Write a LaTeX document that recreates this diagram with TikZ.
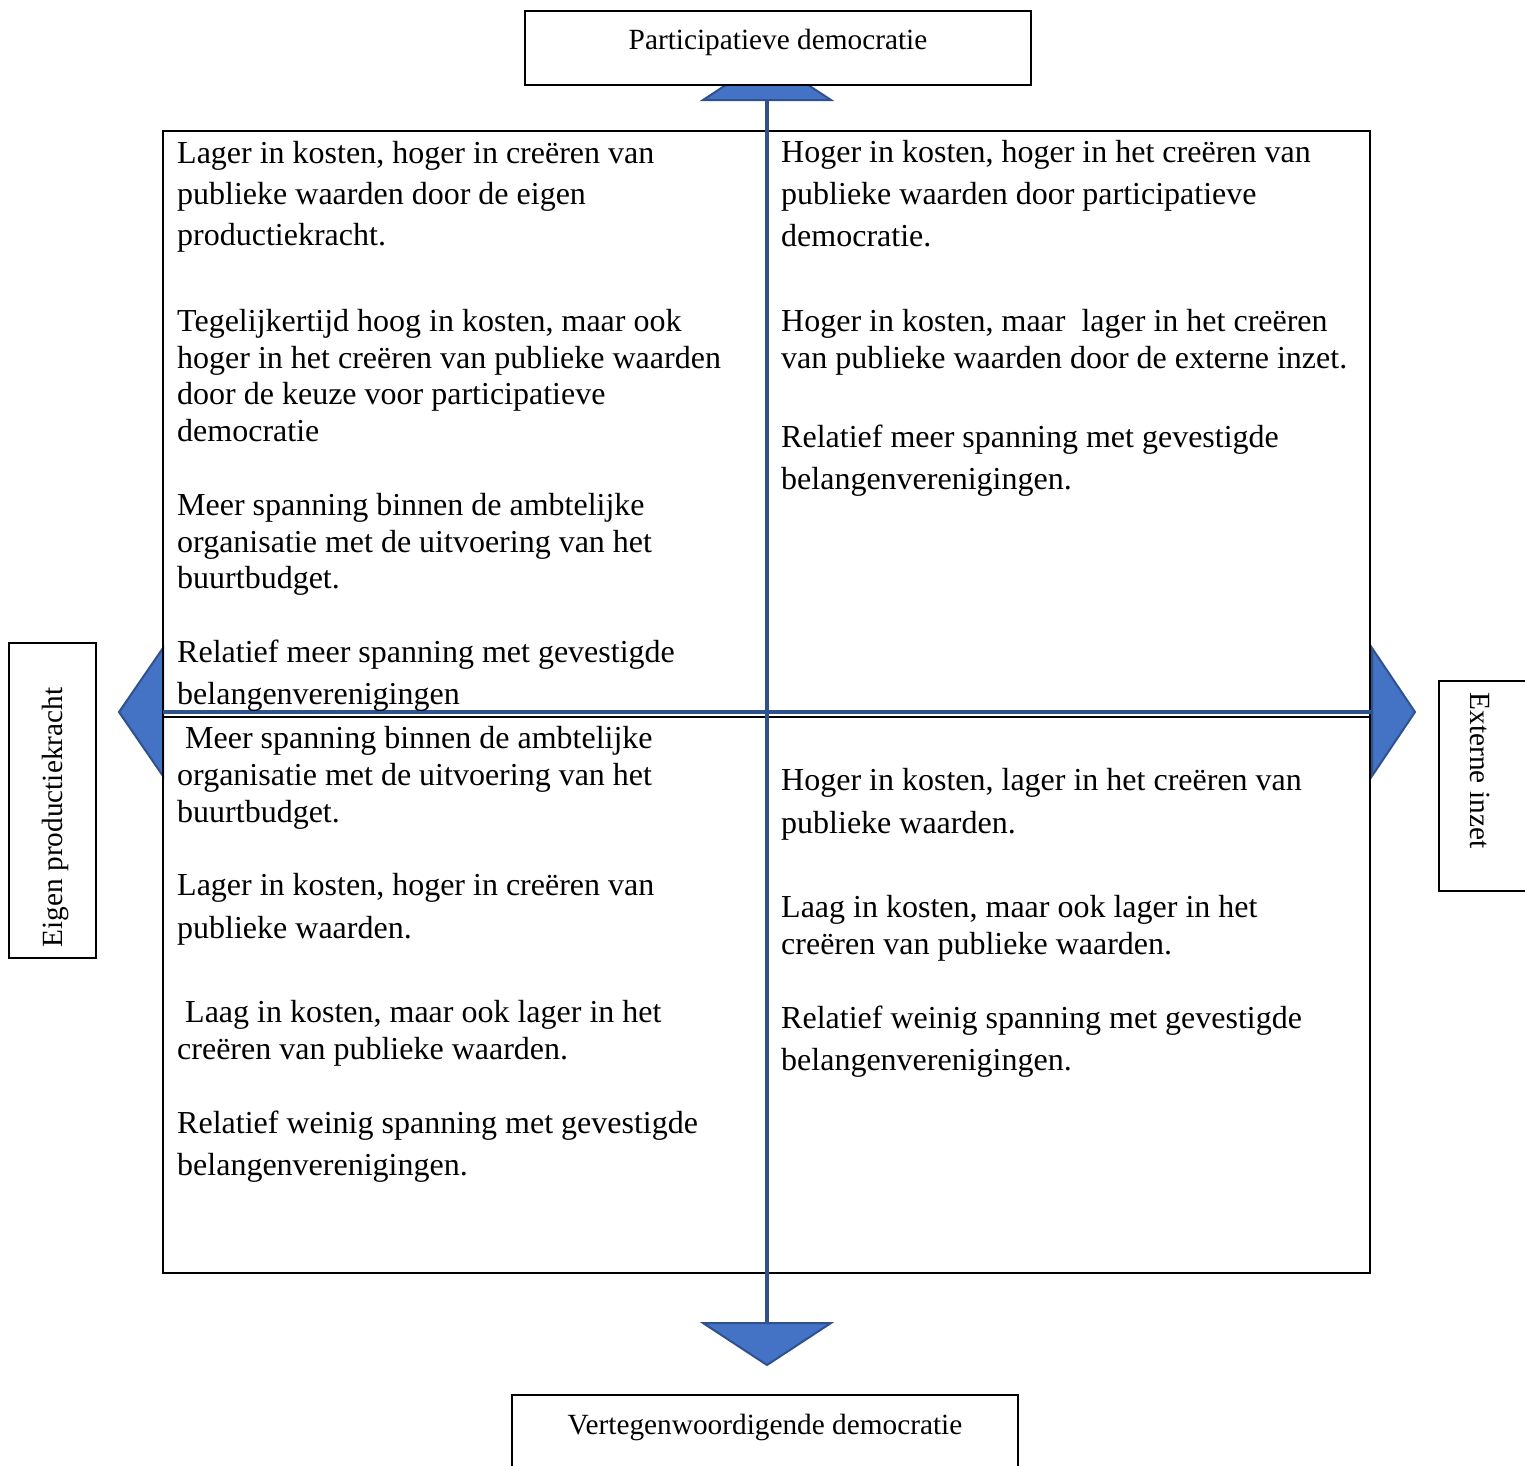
\documentclass[tikz,border=0pt]{standalone}
\usepackage{fontspec}
\setmainfont{Liberation Serif}
\definecolor{axisblue}{HTML}{2F528F}
\definecolor{fillblue}{HTML}{4472C4}
\newcommand\bodyfont{\fontsize{32}{37}\selectfont}
\newcommand\labfont{\fontsize{29.3}{34}\selectfont}
\newcommand\quadpara[5]{\foreach \t [count=\i] in {#5}{\node[bodytext] (#1-\i) at (#2,{#3+(\i-1)*#4}) {\t};}}
\tikzset{
  bodytext/.style={anchor=base west, inner sep=0pt, font=\bodyfont},
  labtext/.style={anchor=base, inner sep=0pt, font=\labfont},
  labbox/.style={draw=black, line width=1.3pt, fill=white},
  frame/.style={draw=black, line width=2pt},
  axis/.style={draw=axisblue, line width=3.5pt},
  headfill/.style={fill=fillblue, draw=axisblue, line width=2pt, line join=miter}
}
\begin{document}
\begin{tikzpicture}[x=1pt,y=-1pt]
\useasboundingbox (0,0) rectangle (1525,1465);
\clip (0,0) rectangle (1525,1465);
\fill[white] (0,0) rectangle (1525,1465);
% arrow heads
\path[headfill] (703,100) -- (831,100) -- (767,58) -- cycle;
\path[headfill] (703,1323) -- (831,1323) -- (767,1365) -- cycle;
\path[headfill] (163,648) -- (163,776) -- (119,712) -- cycle;
\path[headfill] (1372,648) -- (1372,776) -- (1415,712) -- cycle;
% quadrant frame
\draw[frame] (163,131) rectangle (1370,1273);
\coordinate (midL) at (163,717);
\coordinate (midR) at (1370,717);
\draw[frame] (midL) -- (midR);
% axes
\coordinate (vtop) at (767,100);
\coordinate (vbot) at (767,1323);
\coordinate (hl) at (163,712);
\coordinate (hr) at (1372,712);
\draw[axis] (vtop) -- (vbot);
\draw[axis] (hl) -- (hr);
% top-left
\quadpara{tla}{177}{163.5}{41}{{Lager in kosten, hoger in creëren van},{publieke waarden door de eigen},{productiekracht.}}
\quadpara{tlb}{177}{331.5}{36.5}{{Tegelijkertijd hoog in kosten, maar ook},{hoger in het creëren van publieke waarden},{door de keuze voor participatieve},{democratie}}
\quadpara{tlc}{177}{515.5}{36.5}{{Meer spanning binnen de ambtelijke},{organisatie met de uitvoering van het},{buurtbudget.}}
\quadpara{tld}{177}{662.5}{42}{{Relatief meer spanning met gevestigde},{belangenverenigingen}}
% bottom-left
\quadpara{bla}{177}{748.5}{37}{{\ Meer spanning binnen de ambtelijke},{organisatie met de uitvoering van het},{buurtbudget.}}
\quadpara{blb}{177}{895.5}{43}{{Lager in kosten, hoger in creëren van},{publieke waarden.}}
\quadpara{blc}{177}{1022.5}{37}{{\ Laag in kosten, maar ook lager in het},{creëren van publieke waarden.}}
\quadpara{bld}{177}{1133.5}{42}{{Relatief weinig spanning met gevestigde},{belangenverenigingen.}}
% top-right
\quadpara{tra}{781}{162.5}{42}{{Hoger in kosten, hoger in het creëren van},{publieke waarden door participatieve},{democratie.}}
\quadpara{trb}{781}{331.5}{36.5}{{Hoger in kosten, maar\ \ lager in het creëren},{van publieke waarden door de externe inzet.}}
\quadpara{trc}{781}{447.5}{42}{{Relatief meer spanning met gevestigde},{belangenverenigingen.}}
% bottom-right
\quadpara{bra}{781}{790.5}{43}{{Hoger in kosten, lager in het creëren van},{publieke waarden.}}
\quadpara{brb}{781}{917.5}{37}{{Laag in kosten, maar ook lager in het},{creëren van publieke waarden.}}
\quadpara{brc}{781}{1028.5}{42}{{Relatief weinig spanning met gevestigde},{belangenverenigingen.}}
% label boxes
\node[labbox, minimum width=506pt, minimum height=74pt, inner sep=0pt] (pdbox) at (778,48) {};
\node[labtext] (pd) at (778,49) {Participatieve democratie};
\node[labbox, minimum width=506pt, minimum height=100pt, inner sep=0pt] (vdbox) at (765,1445) {};
\node[labtext] (vd) at (765,1434) {Vertegenwoordigende democratie};
\node[labbox, minimum width=87pt, minimum height=315pt, inner sep=0pt] (epbox) at (52.5,800.5) {};
\node[labtext, rotate=90] (ep) at (62,817.5) {Eigen productiekracht};
\node[labbox, minimum width=110pt, minimum height=210pt, inner sep=0pt] (eibox) at (1494,786) {};
\node[labtext, rotate=-90] (ei) at (1470,770.5) {Externe inzet};
\end{tikzpicture}
\end{document}
